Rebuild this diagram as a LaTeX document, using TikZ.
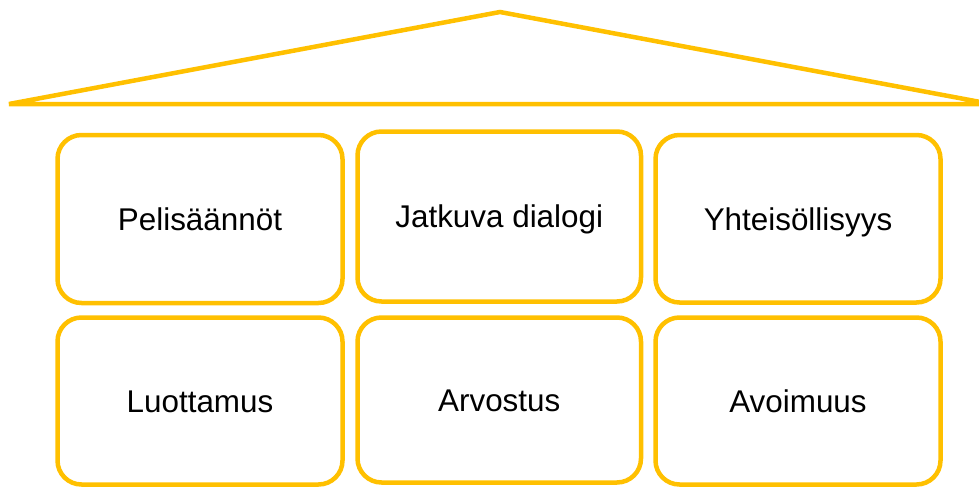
\documentclass[tikz,border=0pt]{standalone}
\usepackage{fontspec}
\setmainfont{Liberation Sans}
\definecolor{gold}{HTML}{FFC000}
\begin{document}
\begin{tikzpicture}[x=1pt,y=-1pt,
  pillar/.style={draw=gold, line width=4.5pt, rounded corners=24pt,
    inner sep=0pt, text height=22.5pt, text depth=0pt,
    font=\fontsize{31.4pt}{36pt}\selectfont, text=black},
  roof/.style={draw=gold, line width=4.5pt}]
  \useasboundingbox (0,0) rectangle (979,488);
  \begin{scope}
    \clip (0,0) rectangle (979,488);
    % roof
    \coordinate (eaveL) at (9,104);
    \coordinate (apex) at (500,12);
    \coordinate (eaveR) at (991,104);
    \draw[roof] (eaveL) -- (apex) -- (eaveR) -- cycle;
  \end{scope}
  % upper row of pillars
  \node[pillar, minimum width=285pt, minimum height=168pt] (pel) at (200,219) {Pelisäännöt};
  \node[pillar, minimum width=283.5pt, minimum height=170pt] (jat) at (499.25,216.5) {Jatkuva dialogi};
  \node[pillar, minimum width=285pt, minimum height=167.5pt] (yht) at (798,218.75) {Yhteisöllisyys};
  % lower row of pillars
  \node[pillar, minimum width=285pt, minimum height=167pt] (luo) at (200,401) {Luottamus};
  \node[pillar, minimum width=283.5pt, minimum height=165pt] (arv) at (499.25,400) {Arvostus};
  \node[pillar, minimum width=285pt, minimum height=167pt] (avo) at (798,401) {Avoimuus};
\end{tikzpicture}
\end{document}
